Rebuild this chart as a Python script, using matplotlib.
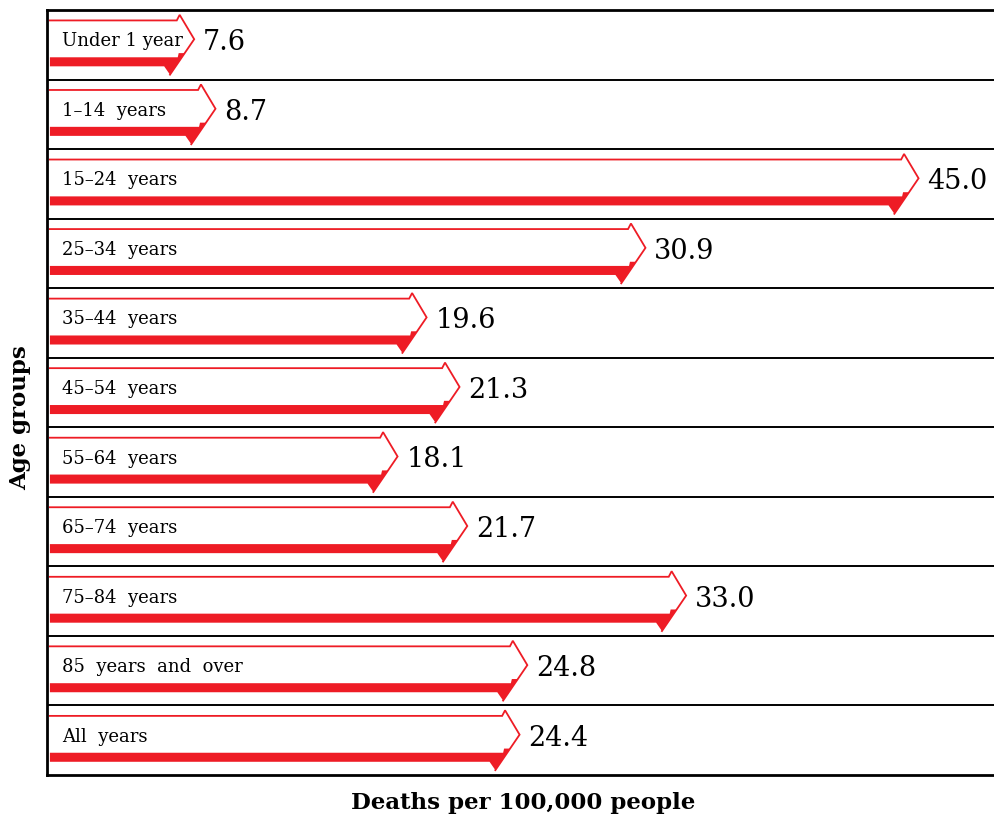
import matplotlib.pyplot as plt
from matplotlib.patches import Polygon

groups = ["Under 1 year", "1\u201314  years", "15\u201324  years", "25\u201334  years",
          "35\u201344  years", "45\u201354  years", "55\u201364  years", "65\u201374  years",
          "75\u201384  years", "85  years  and  over", "All  years"]
deaths = [7.6, 8.7, 45.0, 30.9, 19.6, 21.3, 18.1, 21.7, 33.0, 24.8, 24.4]

red = "#ee1c25"
serif = "DejaVu Serif"

fig = plt.figure(figsize=(9.95, 8.16), dpi=100)
ax = fig.add_axes([47 / 995, 1 - 775 / 816, 1 - 47 / 995 + 0.003, (775 - 10) / 816])
ax.set_xlim(0, 49.1)
ax.set_ylim(len(groups), 0)

for i, (name, v) in enumerate(zip(groups, deaths)):
    # thin outline of the arrow (top edge + head)
    ax.plot([0.15, v - 0.9, v - 0.75, v, v - 1.25],
            [i + 0.15, i + 0.15, i + 0.07, i + 0.42, i + 0.93],
            color=red, lw=1.3, solid_joinstyle="miter")
    # thick lower part of the arrow
    body = Polygon([(0.15, i + 0.68), (v - 0.85, i + 0.68), (v - 0.8, i + 0.62),
                    (v - 0.5, i + 0.62), (v - 1.25, i + 0.93), (v - 1.55, i + 0.81),
                    (0.15, i + 0.81)], closed=True, color=red, lw=0)
    ax.add_patch(body)
    ax.text(0.8, i + 0.45, name, fontsize=13, family=serif, va="center", ha="left")
    ax.text(v + 0.45, i + 0.47, f"{v:.1f}", fontsize=19.5, family=serif, va="center", ha="left")

for k in range(1, len(groups)):
    ax.axhline(k, color="black", lw=1.4)

for s in ax.spines.values():
    s.set_linewidth(2)
ax.set_xticks([])
ax.set_yticks([])

fig.text(20 / 995, 1 - 418 / 816, "Age groups", rotation=90, fontsize=16.5, family=serif,
         fontweight="bold", ha="center", va="center")
fig.text(523 / 995, 1 - 803 / 816, "Deaths per 100,000 people", fontsize=16.5, family=serif,
         fontweight="bold", ha="center", va="center")

fig.savefig("out.png", dpi=100)
